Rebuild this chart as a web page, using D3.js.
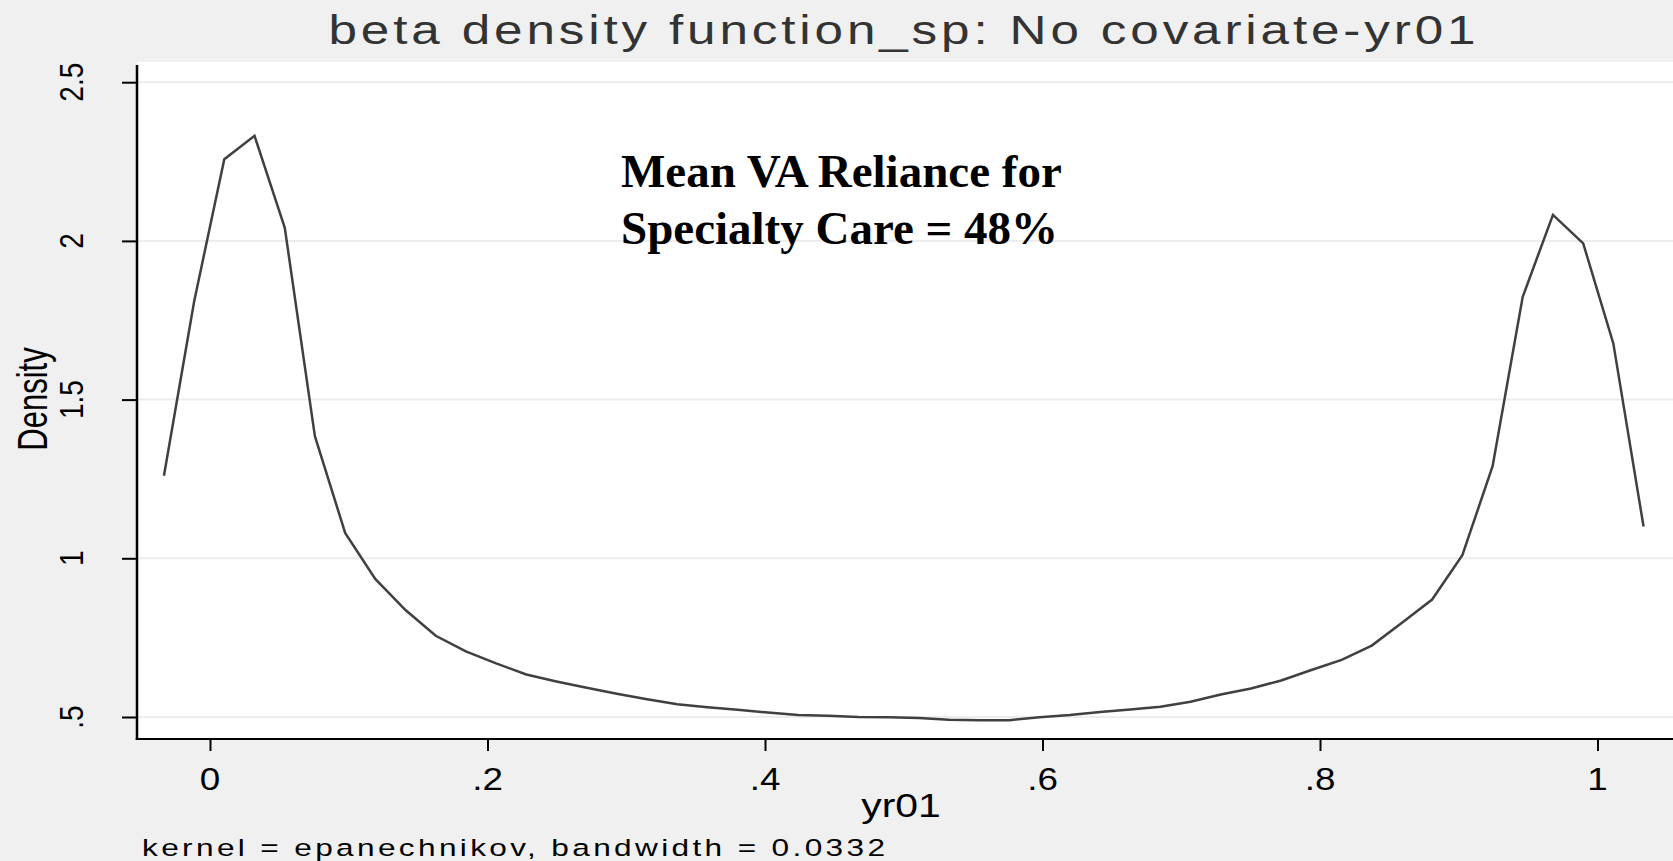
<!DOCTYPE html>
<html>
<head>
<meta charset="utf-8">
<script src="https://cdn.jsdelivr.net/npm/d3@7"></script>
<style>
  html, body { margin: 0; padding: 0; background: #f0f0f0; }
  svg { display: block; }
</style>
</head>
<body>
<svg id="chart" width="1673" height="861"></svg>
<script>
// Kernel density estimate of yr01 (evaluation points and density values)
const evalPoints = [
  -0.0332, -0.0114, 0.0103, 0.0321, 0.0539, 0.0756, 0.0974, 0.1191, 0.1409, 0.1627,
   0.1844,  0.2062, 0.2280, 0.2497, 0.2715, 0.2932, 0.3150, 0.3368, 0.3585, 0.3803,
   0.4021,  0.4238, 0.4456, 0.4673, 0.4891, 0.5109, 0.5326, 0.5544, 0.5762, 0.5979,
   0.6197,  0.6415, 0.6632, 0.6850, 0.7067, 0.7285, 0.7503, 0.7720, 0.7938, 0.8156,
   0.8373,  0.8591, 0.8808, 0.9026, 0.9244, 0.9461, 0.9679, 0.9897, 1.0114, 1.0332
];
const densityValues = [
  1.260, 1.810, 2.257, 2.331, 2.041, 1.385, 1.080, 0.935, 0.837, 0.756,
  0.707, 0.669, 0.634, 0.612, 0.592, 0.573, 0.556, 0.540, 0.531, 0.523,
  0.514, 0.506, 0.504, 0.500, 0.499, 0.497, 0.491, 0.490, 0.490, 0.499,
  0.506, 0.516, 0.524, 0.532, 0.548, 0.571, 0.590, 0.615, 0.648, 0.680,
  0.725, 0.797, 0.870, 1.010, 1.290, 1.824, 2.082, 1.992, 1.677, 1.100
];

const xTicks = [0, 0.2, 0.4, 0.6, 0.8, 1];
const xTickLabels = ["0", ".2", ".4", ".6", ".8", "1"];
const yTicks = [0.5, 1, 1.5, 2, 2.5];
const yTickLabels = [".5", "1", "1.5", "2", "2.5"];

const titleText = "beta density function_sp: No covariate-yr01";
const xTitle = "yr01";
const yTitle = "Density";
const noteText = "kernel = epanechnikov, bandwidth = 0.0332";
const annotationLines = ["Mean VA Reliance for", "Specialty Care = 48%"];

const W = 1673, H = 861;
const plot = { left: 137, right: 1673, top: 62, bottom: 739 };

const svg = d3.select("#chart");

const x = d3.scaleLinear().domain([0, 1]).range([210, 1597.5]);
const y = d3.scaleLinear().domain([0.5, 2.5]).range([717, 82.2]);

const uiFont = "'Liberation Sans', Arial, sans-serif";

// page background
svg.append("rect").attr("width", W).attr("height", H).attr("fill", "#f0f0f0");

// plot region
svg.append("rect")
  .attr("x", plot.left).attr("y", plot.top)
  .attr("width", plot.right - plot.left).attr("height", plot.bottom - plot.top)
  .attr("fill", "#ffffff");

// horizontal grid lines
svg.append("g").selectAll("line").data(yTicks).join("line")
  .attr("x1", plot.left).attr("x2", plot.right)
  .attr("y1", d => y(d)).attr("y2", d => y(d))
  .attr("stroke", "#ededed").attr("stroke-width", 2);

// density curve
const line = d3.line()
  .x((d, i) => x(evalPoints[i]))
  .y(d => y(d))
  .curve(d3.curveLinear);

svg.append("path")
  .datum(densityValues)
  .attr("d", line)
  .attr("fill", "none")
  .attr("stroke", "#404040")
  .attr("stroke-width", 2.5)
  .attr("stroke-linejoin", "miter");

// y axis
const yAxis = d3.axisLeft(y).tickValues(yTicks).tickSize(15).tickFormat("");
const gy = svg.append("g").attr("transform", `translate(${plot.left},0)`).call(yAxis);
gy.select(".domain").remove();
gy.selectAll(".tick line").attr("stroke", "#000").attr("stroke-width", 2);
svg.append("line")
  .attr("x1", plot.left).attr("x2", plot.left)
  .attr("y1", plot.top + 3).attr("y2", plot.bottom + 1)
  .attr("stroke", "#000").attr("stroke-width", 2.5);

// x axis
const xAxis = d3.axisBottom(x).tickValues(xTicks).tickSize(12).tickFormat("");
const gx = svg.append("g").attr("transform", `translate(0,${plot.bottom})`).call(xAxis);
gx.select(".domain").remove();
gx.selectAll(".tick line").attr("stroke", "#000").attr("stroke-width", 2);
svg.append("line")
  .attr("x1", plot.left - 1.25).attr("x2", plot.right)
  .attr("y1", plot.bottom).attr("y2", plot.bottom)
  .attr("stroke", "#000").attr("stroke-width", 2);

// horizontally stretched text helper
function stretchedText(px, py, k, str, opts) {
  const g = svg.append("g").attr("transform", `translate(${px},${py}) scale(${k},1)`);
  const t = g.append("text")
    .attr("font-family", uiFont)
    .attr("font-size", opts.size)
    .attr("fill", opts.fill || "#000")
    .attr("text-anchor", opts.anchor || "middle")
    .text(str);
  if (opts.rotate) t.attr("transform", "rotate(-90)");
  if (opts.length) t.attr("textLength", opts.length / k).attr("lengthAdjust", "spacing");
  return t;
}

// x tick labels
xTicks.forEach((v, i) => {
  stretchedText(x(v), 790, 1.15, xTickLabels[i], { size: 32 });
});

// y tick labels (rotated)
yTicks.forEach((v, i) => {
  stretchedText(83, y(v), 1.18, yTickLabels[i], { size: 28, rotate: true });
});

// axis titles
stretchedText(901, 816.7, 1.24, xTitle, { size: 33 });
stretchedText(47, 399, 1.4, yTitle, { size: 31, rotate: true });

// title
stretchedText(902, 43.5, 1.25, titleText, { size: 41, fill: "#333", length: 1147 });

// note
stretchedText(142, 855.7, 1.3, noteText, { size: 24.3, anchor: "start", length: 743 });

// annotation
const ann = svg.append("text")
  .attr("font-family", "'Liberation Serif', 'Times New Roman', serif")
  .attr("font-weight", "bold")
  .attr("font-size", 47)
  .attr("fill", "#000");
annotationLines.forEach((s, i) => {
  ann.append("tspan").attr("x", 621).attr("y", 186.5 + i * 57).text(s);
});
</script>
</body>
</html>
